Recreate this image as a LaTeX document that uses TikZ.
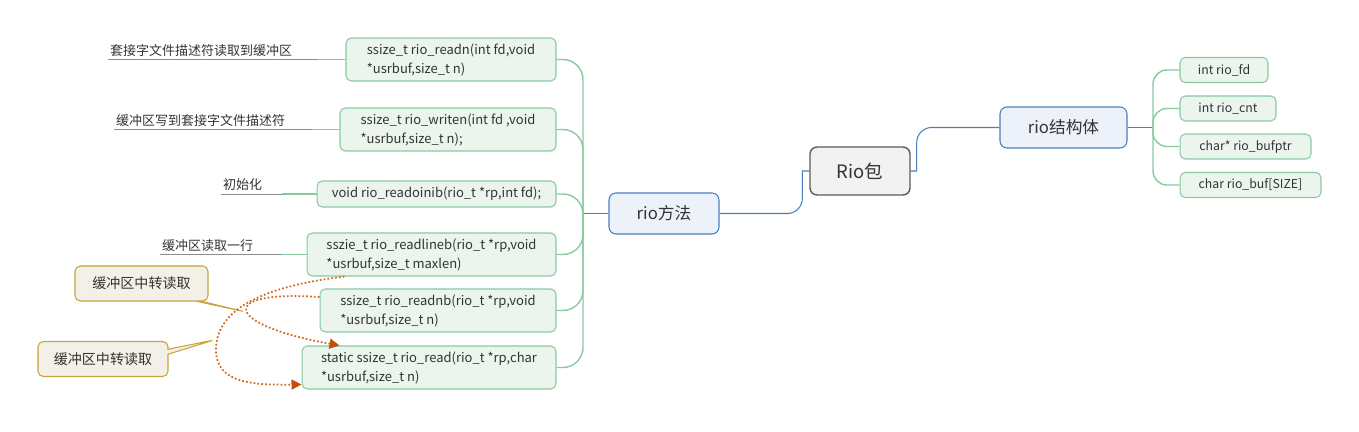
\documentclass[tikz,border=0pt]{standalone}
\usepackage{fontspec}
\setmainfont{Noto Sans CJK SC}
\usetikzlibrary{arrows.meta, shapes.callouts}

\definecolor{leafline}{HTML}{88C9A0}
\definecolor{leaffill}{HTML}{EBF5EE}
\definecolor{topline}{HTML}{4A7EBB}
\definecolor{topfill}{HTML}{EDF2FA}
\definecolor{rootline}{HTML}{5A5A5A}
\definecolor{rootfill}{HTML}{F2F2F2}
\definecolor{noteline}{HTML}{C8A43C}
\definecolor{notefill}{HTML}{F3F1E7}
\definecolor{jumpline}{HTML}{D2691E}
\definecolor{jumptip}{HTML}{C04F0A}
\definecolor{inkgray}{HTML}{333333}

\begin{document}
\begin{tikzpicture}[
    x=0.02cm, y=-0.02cm,
    every node/.style={text=inkgray},
    root/.style={rectangle, draw=rootline, line width=0.8pt, rounded corners=4pt, fill=rootfill, minimum width=2cm, minimum height=0.96cm, font=\fontsize{10.5}{12}\selectfont},
    topic/.style={rectangle, draw=topline, line width=0.6pt, rounded corners=4pt, fill=topfill, minimum height=0.82cm, font=\fontsize{9.5}{11}\selectfont},
    leaf/.style={rectangle, draw=leafline, line width=0.6pt, rounded corners=3pt, fill=leaffill, inner sep=0pt, align=left, minimum height=0.86cm, font=\fontsize{7.4}{10.8}\selectfont},
    field/.style={leaf, minimum height=0.5cm, font=\fontsize{7}{9}\selectfont},
    tag/.style={inner xsep=1pt, inner ysep=1.5pt, anchor=south west, font=\fontsize{7.4}{9}\selectfont},
    note/.style={rectangle callout, draw=noteline, line width=0.6pt, rounded corners=3pt, fill=notefill, callout pointer width=0.1cm, minimum height=0.7cm, font=\fontsize{8}{10}\selectfont},
    main_edge/.style={draw=topline, line width=0.6pt},
    leaf_edge/.style={draw=leafline, line width=0.8pt},
    tag_edge/.style={draw=gray!90, line width=0.5pt},
    jump_arrow/.style={draw=jumpline, line width=1pt, dash pattern=on 1pt off 1.2pt, -{Triangle[length=0.2cm, width=0.2cm, color=jumptip]}}
]
    \useasboundingbox (0,0) rectangle (1359,432);
    % Root
    \node[root] (rio) at (860,171) {Rio包};
    % Topics
    \node[topic, minimum width=2.2cm] (methods) at (664,213.5) {rio方法};
    \node[topic, minimum width=2.54cm] (struct) at (1063.5,127.5) {rio结构体};
    % Struct fields
    \node[field, minimum width=1.76cm] (fd) at (1224,70) {int rio\_fd};
    \node[field, minimum width=1.92cm] (cnt) at (1228,108.5) {int rio\_cnt};
    \node[field, minimum width=2.62cm] (bufptr) at (1245.5,146.5) {char* rio\_bufptr};
    \node[field, minimum width=2.82cm] (buf) at (1250.5,185) {char rio\_buf[SIZE]};
    % Methods
    \node[leaf, minimum width=4.2cm] (readn) at (451,59.5) {ssize\_t rio\_readn(int fd,void\\{}*usrbuf,size\_t n)};
    \node[leaf, minimum width=4.32cm] (writen) at (448,129.5) {ssize\_t rio\_writen(int fd ,void\\{}*usrbuf,size\_t n);};
    \node[leaf, minimum width=4.78cm, minimum height=0.52cm] (readoinib) at (436.5,194) {void rio\_readoinib(rio\_t *rp,int fd);};
    \node[leaf, minimum width=4.98cm] (readlineb) at (431.5,254.5) {sszie\_t rio\_readlineb(rio\_t *rp,void\\{}*usrbuf,size\_t maxlen)};
    \node[leaf, minimum width=4.72cm] (readnb) at (438,310.5) {ssize\_t rio\_readnb(rio\_t *rp,void\\{}*usrbuf,size\_t n)};
    \node[leaf, minimum width=5.08cm] (rioread) at (429,367.5) {static ssize\_t rio\_read(rio\_t *rp,char\\{}*usrbuf,size\_t n)};
    % Labels
    \node[tag] (tag_readn) at (108,59.5) {套接字文件描述符读取到缓冲区};
    \node[tag] (tag_writen) at (114,129.5) {缓冲区写到套接字文件描述符};
    \node[tag] (tag_init) at (221,194) {初始化};
    \node[tag] (tag_line) at (160,254.5) {缓冲区读取一行};
    % Callouts
    \node[note, minimum width=2.66cm, callout absolute pointer={(246,312)}] (note_a) at (141.5,283.5) {缓冲区中转读取};
    \node[note, minimum width=2.6cm, callout absolute pointer={(214,340)}] (note_b) at (103,359) {缓冲区中转读取};
    % Hubs
    \coordinate (mhub) at (583,213.5);
    \coordinate (shub) at (1153,127.5);
    % Root to topics
    \draw[main_edge] (rio.west) -- ++(-7,0) {[rounded corners=0.3cm] |- (methods.east)};
    \draw[main_edge] (rio.east) -- ++(6,0) {[rounded corners=0.3cm] |- (struct.west)};
    \draw[main_edge] (mhub) -- (methods.west);
    \draw[main_edge] (struct.east) -- (shub);
    % Method branches
    \draw[leaf_edge, rounded corners=0.4cm] (readn.east) -| (mhub);
    \draw[leaf_edge, rounded corners=0.4cm] (writen.east) -| (mhub);
    \draw[leaf_edge, rounded corners=0.4cm] (readoinib.east) -| (mhub);
    \draw[leaf_edge, rounded corners=0.4cm] (readlineb.east) -| (mhub);
    \draw[leaf_edge, rounded corners=0.4cm] (readnb.east) -| (mhub);
    \draw[leaf_edge, rounded corners=0.4cm] (rioread.east) -| (mhub);
    % Field branches
    \draw[leaf_edge, rounded corners=0.28cm] (shub) |- (fd.west);
    \draw[leaf_edge, rounded corners=0.28cm] (shub) |- (cnt.west);
    \draw[leaf_edge, rounded corners=0.28cm] (shub) |- (bufptr.west);
    \draw[leaf_edge, rounded corners=0.28cm] (shub) |- (buf.west);
    % Label lines
    \draw[tag_edge] (tag_readn.south west) -- ([xshift=-0.55cm]readn.west);
    \draw[leaf_edge] ([xshift=-0.55cm]readn.west) -- (readn.west);
    \draw[tag_edge] (tag_writen.south west) -- ([xshift=-0.55cm]writen.west);
    \draw[leaf_edge] ([xshift=-0.55cm]writen.west) -- (writen.west);
    \draw[tag_edge] (tag_init.south west) -- ([xshift=-0.7cm]readoinib.west);
    \draw[leaf_edge] ([xshift=-0.7cm]readoinib.west) -- (readoinib.west);
    \draw[tag_edge] (tag_line.south west) -- ([xshift=-0.5cm]readlineb.west);
    \draw[leaf_edge] ([xshift=-0.5cm]readlineb.west) -- (readlineb.west);
    % Buffered reads
    \draw[jump_arrow] ([xshift=0.76cm]readlineb.south west) .. controls (250,288) and (216,315) .. (216,350) .. controls (216,384) and (255,385) .. ([yshift=-0.34cm]rioread.west);
    \draw[jump_arrow] ([yshift=0.27cm]readnb.west) .. controls (215,290) and (225,325) .. ([xshift=0.76cm]rioread.north west);
\end{tikzpicture}
\end{document}
